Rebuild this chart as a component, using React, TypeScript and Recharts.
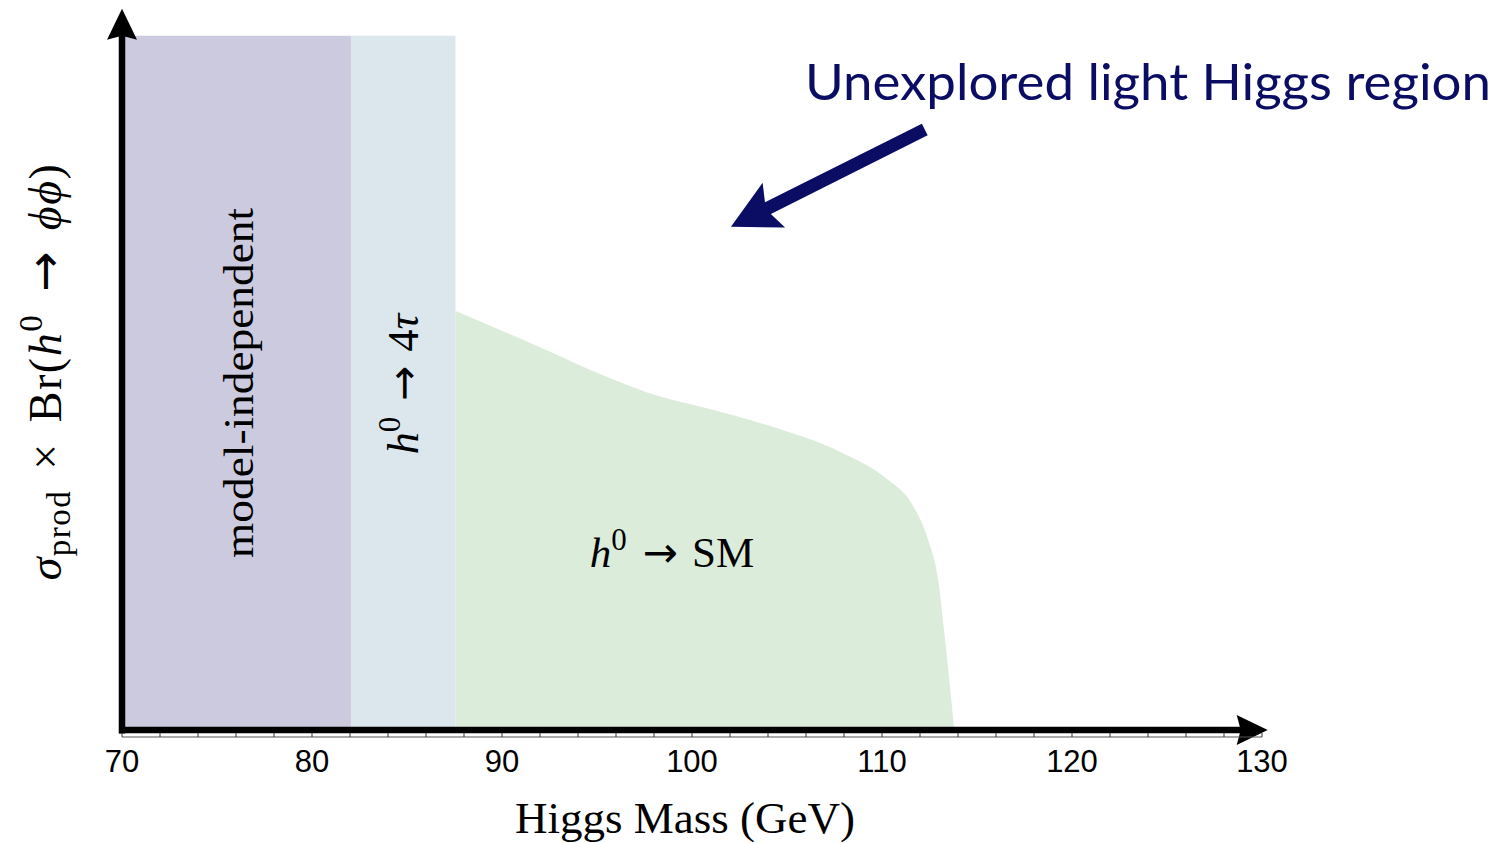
import React from 'react';
import {
  ComposedChart,
  Area,
  XAxis,
  YAxis,
  ReferenceArea,
  ReferenceLine,
  ReferenceDot,
  Label,
} from 'recharts';

// ---- data ----
const xTicks = [70, 72, 74, 76, 78, 80, 82, 84, 86, 88, 90, 92, 94, 96, 98, 100, 102, 104, 106, 108, 110, 112, 114, 116, 118, 120, 122, 124, 126, 128, 130];
const majorTicks = [70, 80, 90, 100, 110, 120, 130];

// excluded regions (GeV)
const modelIndepRange = [70, 82.05];
const fourTauRange = [82.05, 87.55];
const regionTop = 1.0;

// h0 -> SM exclusion boundary (arbitrary units)
const smMass = [87.55, 92.03, 95.57, 97.68, 100.84, 104.32, 107.85, 110.33, 111.54, 112.44, 112.96, 113.28, 113.65, 113.8];
const smLimit = [0.604, 0.551, 0.508, 0.486, 0.463, 0.436, 0.4, 0.36, 0.327, 0.273, 0.216, 0.14, 0.043, 0.0];

// annotation arrow (tail -> tip) in data coords
const arrowTail = { x: 112.25, y: 0.865 };
const arrowTip = { x: 102.05, y: 0.725 };
const headerPos = { x: 124.0, y: 0.935 };
const smLabelPos = { x: 98.95, y: 0.255 };

const data = smMass.map((m, i) => ({ mass: m, limit: smLimit[i] }));

const NAVY = '#0a0d63';
const SERIF = '"Liberation Serif", "DejaVu Serif", serif';
const ARROWFONT = '"DejaVu Sans", sans-serif';

function makeArrow(color: string, width: number, headLen: number, headHalf: number, inset: number) {
  return (props: any) => {
    const { x1, y1, x2, y2 } = props;
    if ([x1, y1, x2, y2].some((v) => v == null || isNaN(v))) return <g />;
    const dx = x2 - x1;
    const dy = y2 - y1;
    const len = Math.sqrt(dx * dx + dy * dy) || 1;
    const ux = dx / len;
    const uy = dy / len;
    const px = -uy;
    const py = ux;
    const bx = x2 - ux * headLen;
    const by = y2 - uy * headLen;
    const ix = x2 - ux * (headLen - inset);
    const iy = y2 - uy * (headLen - inset);
    const lx = x2 - ux * (headLen - inset - 2);
    const ly = y2 - uy * (headLen - inset - 2);
    const head = `M${x2},${y2} L${bx + px * headHalf},${by + py * headHalf} L${ix},${iy} L${bx - px * headHalf},${by - py * headHalf} Z`;
    return (
      <g>
        <line x1={x1} y1={y1} x2={lx} y2={ly} stroke={color} strokeWidth={width} />
        <path d={head} fill={color} stroke="none" />
      </g>
    );
  };
}

const axisArrowShape = makeArrow('#000', 6.5, 31, 15, 4);
const navyArrowShape = makeArrow(NAVY, 13, 48, 25, 9);

const XTick = (props: any) => {
  const { x, y, payload } = props;
  const isMajor = majorTicks.includes(payload.value);
  return (
    <g>
      <line x1={x} x2={x} y1={y - 4} y2={y} stroke="#333" strokeWidth={1} />
      {isMajor && (
        <text
          x={x}
          y={y + 35}
          textAnchor="middle"
          fontFamily='"Liberation Sans", Arial, sans-serif'
          fontSize={31}
          fill="#000"
        >
          {payload.value}
        </text>
      )}
    </g>
  );
};

const XLabel = (props: any) => {
  const vb = props.viewBox || {};
  const cx = vb.x + vb.width / 2 - 7;
  const by = vb.y + 96;
  return (
    <text x={cx} y={by} textAnchor="middle" fontFamily={SERIF} fontSize={45} fill="#000">
      Higgs Mass (GeV)
    </text>
  );
};

const YLabel = (props: any) => {
  const vb = props.viewBox || {};
  const bx = vb.x + 53;
  const cy = vb.y + vb.height / 2 - 1;
  return (
    <text
      transform={`translate(${bx},${cy}) rotate(-90)`}
      x={0}
      y={0}
      textAnchor="middle"
      fontFamily={SERIF}
      fontSize={46}
      letterSpacing={1.5}
      fill="#000"
    >
      <tspan fontStyle="italic">σ</tspan>
      <tspan fontSize={33} dy={9}>prod</tspan>
      <tspan dy={-9} dx={20}>×</tspan>
      <tspan dx={20}>Br(</tspan>
      <tspan fontStyle="italic">h</tspan>
      <tspan fontSize={33} dy={-19}>0</tspan>
      <tspan dy={19} dx={22} fontFamily={ARROWFONT} fontSize={48}>→</tspan>
      <tspan dx={20} fontStyle="italic">ϕϕ</tspan>
      <tspan>)</tspan>
    </text>
  );
};

const ModelIndepLabel = (props: any) => {
  const vb = props.viewBox || {};
  const bx = vb.x + vb.width / 2 + 17;
  const cy = vb.y + vb.height / 2;
  return (
    <text
      transform={`translate(${bx},${cy}) rotate(-90)`}
      textAnchor="middle"
      fontFamily={SERIF}
      fontSize={42}
      fill="#000"
      textLength={350}
      lengthAdjust="spacingAndGlyphs"
    >
      model-independent
    </text>
  );
};

const FourTauLabel = (props: any) => {
  const vb = props.viewBox || {};
  const bx = vb.x + vb.width / 2 + 15;
  const cy = vb.y + vb.height / 2 + 1;
  return (
    <text
      transform={`translate(${bx},${cy}) rotate(-90)`}
      textAnchor="middle"
      fontFamily={SERIF}
      fontSize={44}
      fill="#000"
    >
      <tspan fontStyle="italic">h</tspan>
      <tspan fontSize={31} dy={-18}>0</tspan>
      <tspan dy={18} dx={16} fontFamily={ARROWFONT} fontSize={42}>→</tspan>
      <tspan dx={14}>4</tspan>
      <tspan fontStyle="italic">τ</tspan>
    </text>
  );
};

const SmLabel = (props: any) => {
  const vb = props.viewBox || {};
  const cx = vb.x + (vb.width || 0) / 2;
  const cy = vb.y + (vb.height || 0) / 2;
  return (
    <text x={cx} y={cy + 14} textAnchor="middle" fontFamily={SERIF} fontSize={43} fill="#000">
      <tspan fontStyle="italic">h</tspan>
      <tspan fontSize={31} dy={-17}>0</tspan>
      <tspan dy={17} dx={16} fontFamily={ARROWFONT} fontSize={42}>→</tspan>
      <tspan dx={14}>SM</tspan>
    </text>
  );
};

const HeaderLabel = (props: any) => {
  const vb = props.viewBox || {};
  const cx = vb.x + (vb.width || 0) / 2;
  const cy = vb.y + (vb.height || 0) / 2;
  return (
    <text
      x={cx}
      y={cy + 19}
      textAnchor="middle"
      fontFamily='Lato, "Open Sans", sans-serif'
      fontSize={50}
      fill={NAVY}
      textLength={686}
      lengthAdjust="spacingAndGlyphs"
    >
      Unexplored light Higgs region
    </text>
  );
};

export default function App() {
  return (
    <div style={{ width: 1492, height: 835 }}>
      <style>{`html,body{overflow:hidden;}`}</style>
      <ComposedChart
        width={1492}
        height={835}
        data={data}
        margin={{ top: 0, right: 238, bottom: 8, left: 0 }}
      >
        <XAxis
          type="number"
          dataKey="mass"
          domain={[70, 130]}
          ticks={xTicks}
          interval={0}
          allowDataOverflow
          height={98}
          tickSize={0}
          tickMargin={0}
          tickLine={false}
          axisLine={{ stroke: '#555', strokeWidth: 1 }}
          tick={<XTick />}
        >
          <Label content={<XLabel />} />
        </XAxis>
        <YAxis
          type="number"
          domain={[-0.01, 1.04]}
          allowDataOverflow
          width={114}
          axisLine={false}
          tickLine={false}
          tick={false}
        >
          <Label content={<YLabel />} />
        </YAxis>

        <ReferenceArea
          x1={modelIndepRange[0]}
          x2={modelIndepRange[1]}
          y1={0}
          y2={regionTop}
          fill="#cccadf"
          fillOpacity={1}
          stroke="none"
          ifOverflow="visible"
          label={<ModelIndepLabel />}
        />
        <ReferenceArea
          x1={fourTauRange[0]}
          x2={fourTauRange[1]}
          y1={0}
          y2={regionTop}
          fill="#dbe6ed"
          fillOpacity={1}
          stroke="none"
          ifOverflow="visible"
          label={<FourTauLabel />}
        />

        <Area
          type="monotone"
          dataKey="limit"
          baseValue={0}
          stroke="none"
          fill="#dcecdb"
          fillOpacity={1}
          isAnimationActive={false}
          dot={false}
          activeDot={false}
        />

        <ReferenceDot
          x={smLabelPos.x}
          y={smLabelPos.y}
          r={0}
          fill="none"
          stroke="none"
          ifOverflow="visible"
          label={<SmLabel />}
        />

        <ReferenceLine
          segment={[{ x: 69.84, y: 0 }, { x: 130.3, y: 0 }]}
          ifOverflow="visible"
          shape={axisArrowShape}
        />
        <ReferenceLine
          segment={[{ x: 70, y: -0.005 }, { x: 70, y: 1.039 }]}
          ifOverflow="visible"
          shape={axisArrowShape}
        />

        <ReferenceLine
          segment={[arrowTail, arrowTip]}
          ifOverflow="visible"
          shape={navyArrowShape}
        />
        <ReferenceDot
          x={headerPos.x}
          y={headerPos.y}
          r={0}
          fill="none"
          stroke="none"
          ifOverflow="visible"
          label={<HeaderLabel />}
        />
      </ComposedChart>
    </div>
  );
}
